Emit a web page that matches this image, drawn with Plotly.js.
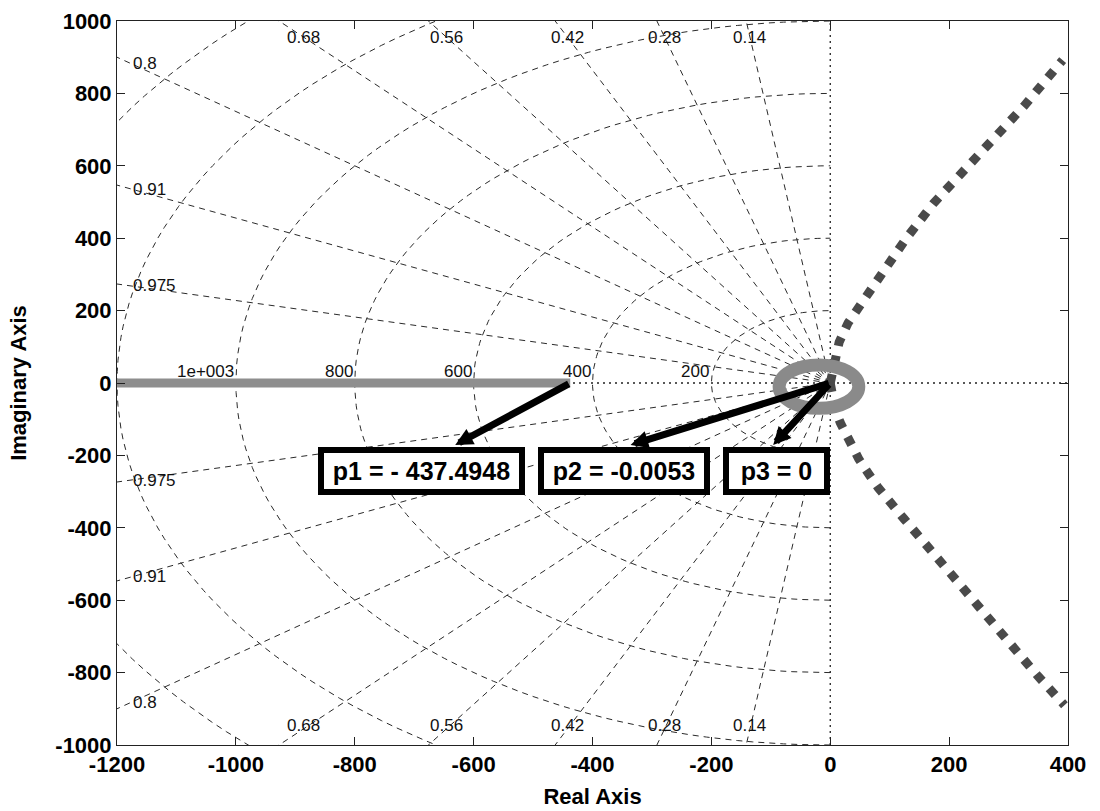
<!DOCTYPE html>
<html>
<head>
<meta charset="utf-8">
<script src="https://cdn.plot.ly/plotly-3.0.1.min.js"></script>
<style>
  html, body { margin: 0; padding: 0; background: #ffffff; }
  #chart { width: 1100px; height: 811px; }
</style>
</head>
<body>
<div id="chart"></div>
<script>
// ---- Root locus branches ----
// Branch leaving the far pole along the negative real axis
const realBranchRe = [-437.4948, -1200];
const realBranchIm = [0, 0];
// Complex branches leaving the double pole near the origin
const upperBranchRe = [0, 4, 8, 15, 30, 46, 63, 84, 128, 174, 222, 268, 326, 391];
const upperBranchIm = [0, 40, 72, 113, 166, 204, 252, 293, 400, 497, 580, 660, 765, 892];
const lowerBranchRe = [0, 4, 8, 17, 32, 48, 65, 81, 124, 164, 224, 287, 349, 394];
const lowerBranchIm = [0, -40, -72, -110, -165, -210, -252, -290, -375, -453, -572, -693, -809, -890];

// ---- Pole call-outs ----
const poleNames = ['p1 = - 437.4948', 'p2 = -0.0053', 'p3 = 0'];
const poleRe = [-437.4948, -0.0053, 0];
const poleIm = [0, 0, 0];

// ---- s-plane grid ----
const dampingRatios = [0.14, 0.28, 0.42, 0.56, 0.68, 0.8, 0.91, 0.975];
const dampingLabels = ['0.14', '0.28', '0.42', '0.56', '0.68', '0.8', '0.91', '0.975'];
const naturalFreqs = [200, 400, 600, 800, 1000, 1200, 1400];
const freqLabels = ['200', '400', '600', '800', '1e+003'];

// ---- Axes ----
const xRange = [-1200, 400];
const yRange = [-1000, 1000];
const xTicks = [-1200, -1000, -800, -600, -400, -200, 0, 200, 400];
const yTicks = [-1000, -800, -600, -400, -200, 0, 200, 400, 600, 800, 1000];

const FONT = '"Liberation Sans", Arial, Helvetica, sans-serif';

// Constant-damping rays and constant-frequency semicircles
const gridX = [], gridY = [];
dampingRatios.forEach(z => {
  const s = Math.sqrt(1 - z * z);
  const R = 4000;
  gridX.push(0, -R * z, null, 0, -R * z, null);
  gridY.push(0, R * s, null, 0, -R * s, null);
});
naturalFreqs.forEach(wn => {
  for (let k = 0; k <= 120; k++) {
    const phi = -Math.PI / 2 + Math.PI * k / 120;
    gridX.push(-wn * Math.cos(phi));
    gridY.push(wn * Math.sin(phi));
  }
  gridX.push(null); gridY.push(null);
});

const traces = [
  { x: gridX, y: gridY, mode: 'lines', hoverinfo: 'skip',
    line: { color: '#2a2a2a', width: 1, dash: '6px,5px' } },
  // real and imaginary axes of the s-plane
  { x: [xRange[0], xRange[1]], y: [0, 0], mode: 'lines', hoverinfo: 'skip',
    line: { color: '#222222', width: 1.3, dash: '2px,4px' } },
  { x: [0, 0], y: [yRange[0], yRange[1]], mode: 'lines', hoverinfo: 'skip',
    line: { color: '#222222', width: 1.3, dash: '2px,4px' } },
  // locus branches
  { x: realBranchRe, y: realBranchIm, mode: 'lines',
    line: { color: '#8e8e8e', width: 9 } },
  { x: upperBranchRe, y: upperBranchIm, mode: 'lines', line: { color: '#4a4a4a', width: 9, dash: '9px,10px' } },
  { x: lowerBranchRe, y: lowerBranchIm, mode: 'lines', line: { color: '#4a4a4a', width: 9, dash: '9px,10px' } }
];

const annotations = [];
// damping ratio labels
const topEdge = yRange[1], leftEdge = xRange[0];
dampingRatios.forEach((z, i) => {
  const slope = Math.sqrt(1 - z * z) / z;
  if (topEdge / slope <= -leftEdge) {
    const yl = 955;
    [1, -1].forEach(sg => annotations.push({
      x: -yl / slope, y: sg * (sg > 0 ? yl : 945), xref: 'x', yref: 'y',
      text: dampingLabels[i], showarrow: false, xanchor: 'center', yanchor: 'middle',
      font: { family: FONT, size: 17, color: '#111' }
    }));
  } else {
    const xl = -1176;
    [1, -1].forEach(sg => annotations.push({
      x: xl, y: sg * (-xl) * slope, xref: 'x', yref: 'y',
      text: dampingLabels[i], showarrow: false, xanchor: 'left', yanchor: 'middle',
      font: { family: FONT, size: 17, color: '#111' }
    }));
  }
});
// natural frequency labels
freqLabels.forEach((t, i) => annotations.push({
  x: -naturalFreqs[i], y: 32, xref: 'x', yref: 'y', text: t, showarrow: false,
  xanchor: 'right', yanchor: 'middle', font: { family: FONT, size: 17, color: '#111' }
}));

// call-out boxes and arrows from each pole
const boxRe = [-687, -346.5, -89.7];
const boxIm = -243;
const boxWidths = [195, 160, 95];
const arrowTipRe = [-631, -336, -96];
const arrowTipIm = -171;
poleNames.forEach((t, i) => annotations.push({
  x: arrowTipRe[i], y: arrowTipIm, xref: 'x', yref: 'y',
  ax: poleRe[i], ay: poleIm[i], axref: 'x', ayref: 'y',
  text: '', showarrow: true, arrowhead: 2, arrowsize: 0.5, arrowwidth: 7, arrowcolor: '#000'
}));
poleNames.forEach((t, i) => annotations.push({
  x: boxRe[i], y: boxIm, xref: 'x', yref: 'y', text: '<b>' + t + '</b>', showarrow: false,
  xanchor: 'center', yanchor: 'middle', width: boxWidths[i], height: 36,
  bgcolor: '#ffffff', bordercolor: '#000000', borderwidth: 6, borderpad: 0,
  font: { family: FONT, size: 25, color: '#000' }
}));

const axisCommon = {
  showgrid: false, zeroline: false, showline: true, linecolor: '#222', linewidth: 1,
  mirror: 'allticks', ticks: 'inside', ticklen: 8, tickcolor: '#222', tickwidth: 1,
  tickmode: 'array', tickfont: { family: FONT, size: 22, color: '#000', weight: 'bold' }
};

const layout = {
  width: 1100, height: 811,
  margin: { l: 117, r: 32, t: 21, b: 66 },
  paper_bgcolor: '#ffffff', plot_bgcolor: '#ffffff',
  showlegend: false,
  xaxis: Object.assign({}, axisCommon, {
    range: xRange, tickvals: xTicks, ticktext: xTicks.map(String),
    title: { text: '<b>Real Axis</b>', font: { family: FONT, size: 22, color: '#000' }, standoff: 12 }
  }),
  yaxis: Object.assign({}, axisCommon, {
    range: yRange, tickvals: yTicks, ticktext: yTicks.map(String),
    title: { text: '<b>Imaginary Axis</b>', font: { family: FONT, size: 22, color: '#000' }, standoff: 22 }
  }),
  shapes: [{
    type: 'circle', xref: 'x', yref: 'y', layer: 'above',
    x0: -86, x1: 48, y0: -70, y1: 50,
    line: { color: '#8a8a8a', width: 13 }
  }],
  annotations: annotations
};

Plotly.newPlot('chart', traces, layout, { staticPlot: true, displayModeBar: false });
</script>
</body>
</html>
